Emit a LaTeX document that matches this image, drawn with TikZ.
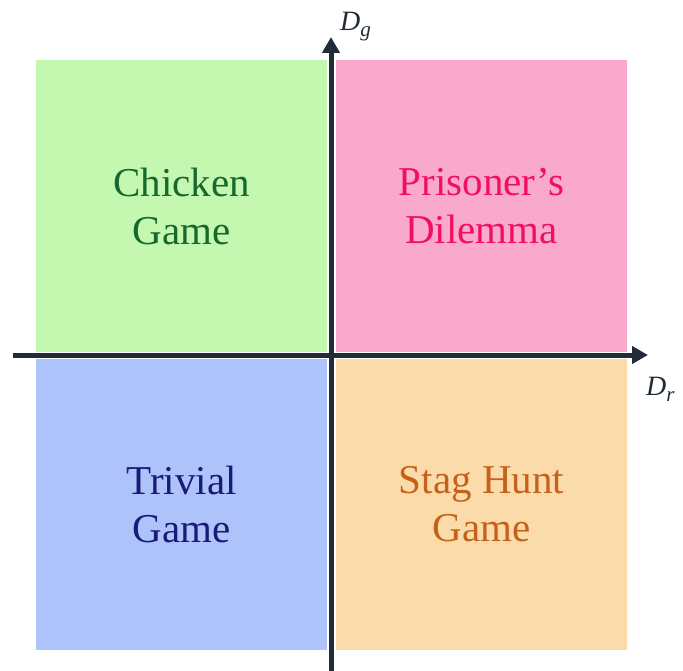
\documentclass[tikz,border=0pt]{standalone}
\usepackage{fontspec}
\setmainfont{Liberation Serif}
\usetikzlibrary{arrows.meta}
\definecolor{qgreen}{HTML}{C4F7AF}
\definecolor{qpink}{HTML}{F9A9CB}
\definecolor{qblue}{HTML}{ADC3F9}
\definecolor{qorange}{HTML}{FCDBAB}
\definecolor{tgreen}{HTML}{16682C}
\definecolor{tpink}{HTML}{F0105F}
\definecolor{tblue}{HTML}{1A1A78}
\definecolor{torange}{HTML}{C6611A}
\definecolor{axiscol}{HTML}{222B38}
\newcommand{\axsub}[2]{\textit{#1}\raisebox{-6pt}{\fontsize{21}{21}\selectfont\textit{#2}}}
\tikzset{
  quad/.style={draw=none, minimum width=291pt, minimum height=292pt, inner sep=0pt,
    align=center, font=\fontsize{41}{48}\selectfont},
  axis/.style={draw=axiscol, line width=5pt, -{Triangle[width=17pt,length=16pt]}},
  axlabel/.style={anchor=base west, inner sep=0pt, text=axiscol, font=\fontsize{28}{32}\selectfont}
}
\begin{document}
\begin{tikzpicture}[x=1pt,y=-1pt]
\useasboundingbox (0,0) rectangle (683,671);
\node[quad, fill=qgreen, text=tgreen] (cg) at (181.5,206) {Chicken\\Game};
\node[quad, fill=qpink, text=tpink] (pd) at (481.5,206) {Prisoner’s\\Dilemma};
\node[quad, fill=qblue, text=tblue, minimum height=291pt] (tg) at (181.5,504.5) {Trivial\\Game};
\node[quad, fill=qorange, text=torange, minimum height=291pt] (sh) at (481.5,504.5) {Stag Hunt\\Game};
\coordinate (xl) at (13,355);
\coordinate (xr) at (648,355);
\coordinate (yb) at (331,671);
\coordinate (yt) at (331,37);
\draw[axis] (xl) -- (xr);
\draw[axis] (yb) -- (yt);
\node[axlabel] (dg) at (340,31) {\axsub{D}{g}};
\node[axlabel] (dr) at (646,395) {\axsub{D}{r}};
\end{tikzpicture}
\end{document}
